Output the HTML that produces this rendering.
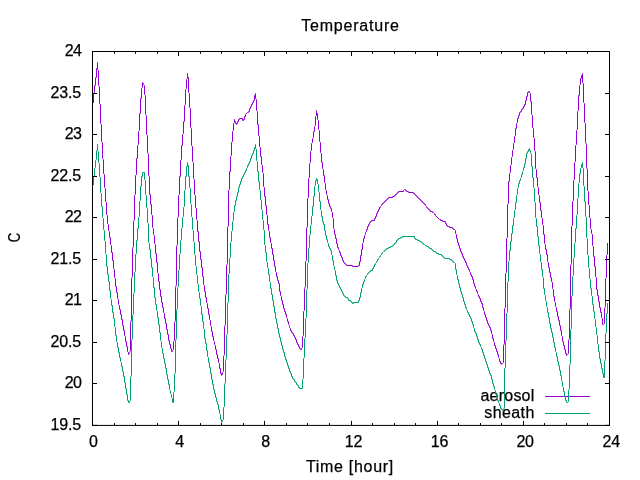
<!DOCTYPE html>
<html lang="en"><head><meta charset="utf-8"><title>Temperature</title>
<style>html,body{margin:0;padding:0;background:#fff;overflow:hidden}svg{display:block}</style>
</head><body>
<svg width="640" height="480" viewBox="0 0 640 480">
<rect x="0" y="0" width="640" height="480" fill="#ffffff"/>
<g font-family="&quot;Liberation Sans&quot;, sans-serif" font-size="16px" fill="#000" stroke="#000" stroke-width="0.25"><text x="534.3" y="400.9" text-anchor="end" textLength="53.8" lengthAdjust="spacing">aerosol</text><text x="534.3" y="417.8" text-anchor="end" textLength="50" lengthAdjust="spacing">sheath</text></g>
<path d="M545 396.5H590" stroke="#9400d3" stroke-width="1" fill="none"/>
<polyline points="93.5,102.5 93.5,93.5 94.5,92.5 94.5,85.5 95.5,85.5 95.5,77.5 96.5,77.5 96.5,68.5 97.5,68.5 97.5,62.5 97.5,69.5 98.5,70.5 98.5,85.5 99.5,86.5 99.5,103.5 100.5,104.5 100.5,123.5 101.5,124.5 101.5,141.5 102.5,142.5 102.5,158.5 103.5,159.5 103.5,173.5 104.5,174.5 104.5,187.5 105.5,188.5 105.5,201.5 106.5,202.5 106.5,214.5 107.5,215.5 107.5,223.5 108.5,224.5 108.5,230.5 109.5,231.5 109.5,237.5 110.5,237.5 110.5,244.5 111.5,245.5 111.5,252.5 112.5,252.5 112.5,260.5 113.5,260.5 113.5,268.5 114.5,269.5 114.5,277.5 115.5,278.5 115.5,286.5 116.5,286.5 116.5,292.5 117.5,292.5 117.5,298.5 118.5,299.5 118.5,304.5 119.5,305.5 119.5,309.5 120.5,309.5 120.5,314.5 121.5,314.5 121.5,319.5 122.5,319.5 122.5,325.5 123.5,325.5 123.5,330.5 124.5,330.5 124.5,335.5 125.5,336.5 125.5,341.5 126.5,341.5 126.5,346.5 127.5,346.5 127.5,351.5 128.5,352.5 128.5,354.5 128.5,353.5 129.5,353.5 129.5,352.5 130.5,350.5 130.5,322.5 131.5,319.5 131.5,278.5 132.5,276.5 132.5,248.5 133.5,246.5 133.5,221.5 134.5,219.5 134.5,195.5 135.5,194.5 135.5,175.5 136.5,174.5 136.5,158.5 137.5,158.5 137.5,145.5 138.5,144.5 138.5,131.5 139.5,130.5 139.5,113.5 140.5,113.5 140.5,98.5 141.5,98.5 141.5,88.5 142.5,87.5 142.5,82.5 143.5,83.5 143.5,84.5 144.5,85.5 144.5,94.5 145.5,95.5 145.5,114.5 146.5,115.5 146.5,134.5 147.5,135.5 147.5,152.5 148.5,154.5 148.5,175.5 149.5,176.5 149.5,194.5 150.5,194.5 150.5,204.5 151.5,204.5 151.5,214.5 152.5,215.5 152.5,227.5 153.5,228.5 153.5,234.5 154.5,235.5 154.5,243.5 155.5,244.5 155.5,253.5 156.5,253.5 156.5,262.5 157.5,262.5 157.5,272.5 158.5,273.5 158.5,281.5 159.5,281.5 159.5,289.5 160.5,289.5 160.5,296.5 161.5,296.5 161.5,302.5 162.5,302.5 162.5,307.5 163.5,307.5 163.5,312.5 164.5,313.5 164.5,318.5 165.5,318.5 165.5,323.5 166.5,323.5 166.5,329.5 167.5,329.5 167.5,334.5 168.5,334.5 168.5,340.5 169.5,340.5 169.5,344.5 170.5,344.5 170.5,348.5 171.5,348.5 171.5,351.5 172.5,351.5 172.5,350.5 173.5,349.5 173.5,341.5 174.5,340.5 174.5,322.5 175.5,320.5 175.5,287.5 176.5,284.5 176.5,246.5 177.5,244.5 177.5,218.5 178.5,216.5 178.5,195.5 179.5,194.5 179.5,176.5 180.5,176.5 180.5,160.5 181.5,159.5 181.5,145.5 182.5,145.5 182.5,134.5 183.5,133.5 183.5,121.5 184.5,121.5 184.5,105.5 185.5,104.5 185.5,89.5 186.5,88.5 186.5,79.5 187.5,78.5 187.5,73.5 187.5,76.5 188.5,77.5 188.5,92.5 189.5,93.5 189.5,107.5 190.5,108.5 190.5,127.5 191.5,128.5 191.5,145.5 192.5,146.5 192.5,161.5 193.5,162.5 193.5,178.5 194.5,179.5 194.5,194.5 195.5,195.5 195.5,207.5 196.5,208.5 196.5,219.5 197.5,220.5 197.5,231.5 198.5,231.5 198.5,241.5 199.5,241.5 199.5,251.5 200.5,251.5 200.5,259.5 201.5,259.5 201.5,267.5 202.5,267.5 202.5,276.5 203.5,276.5 203.5,284.5 204.5,285.5 204.5,291.5 205.5,291.5 205.5,297.5 206.5,297.5 206.5,302.5 207.5,303.5 207.5,308.5 208.5,308.5 208.5,314.5 209.5,314.5 209.5,319.5 210.5,320.5 210.5,325.5 211.5,326.5 211.5,331.5 212.5,331.5 212.5,336.5 213.5,336.5 213.5,340.5 214.5,341.5 214.5,344.5 215.5,345.5 215.5,349.5 216.5,349.5 216.5,354.5 217.5,354.5 217.5,358.5 218.5,358.5 218.5,362.5 219.5,363.5 219.5,368.5 220.5,368.5 220.5,373.5 221.5,373.5 221.5,375.5 221.5,374.5 222.5,374.5 222.5,372.5 223.5,371.5 223.5,356.5 224.5,354.5 224.5,326.5 225.5,324.5 225.5,295.5 226.5,293.5 226.5,265.5 227.5,263.5 227.5,227.5 228.5,225.5 228.5,190.5 229.5,189.5 229.5,171.5 230.5,171.5 230.5,156.5 231.5,155.5 231.5,142.5 232.5,141.5 232.5,131.5 233.5,130.5 233.5,123.5 234.5,122.5 234.5,119.5 234.5,120.5 235.5,121.5 235.5,123.5 236.5,123.5 236.5,124.5 236.5,123.5 237.5,123.5 237.5,121.5 238.5,121.5 238.5,119.5 239.5,119.5 239.5,118.5 242.5,118.5 242.5,120.5 243.5,120.5 243.5,119.5 244.5,119.5 244.5,116.5 245.5,116.5 245.5,114.5 247.5,112.5 248.5,112.5 248.5,111.5 249.5,111.5 249.5,108.5 250.5,108.5 250.5,106.5 251.5,106.5 251.5,104.5 252.5,104.5 252.5,102.5 253.5,102.5 253.5,100.5 254.5,100.5 254.5,95.5 255.5,95.5 255.5,93.5 255.5,98.5 256.5,99.5 256.5,110.5 257.5,111.5 257.5,124.5 258.5,124.5 258.5,135.5 259.5,136.5 259.5,146.5 260.5,147.5 260.5,156.5 261.5,156.5 261.5,164.5 262.5,165.5 262.5,172.5 263.5,173.5 263.5,186.5 264.5,187.5 264.5,196.5 265.5,196.5 265.5,205.5 266.5,205.5 266.5,214.5 267.5,215.5 267.5,224.5 268.5,224.5 268.5,230.5 269.5,231.5 269.5,237.5 270.5,237.5 270.5,242.5 271.5,243.5 271.5,248.5 272.5,248.5 272.5,254.5 273.5,254.5 273.5,260.5 274.5,260.5 274.5,266.5 275.5,266.5 275.5,271.5 276.5,272.5 276.5,276.5 277.5,276.5 277.5,280.5 278.5,280.5 278.5,283.5 279.5,283.5 279.5,291.5 280.5,291.5 280.5,295.5 281.5,296.5 281.5,300.5 282.5,300.5 282.5,304.5 283.5,304.5 283.5,308.5 284.5,308.5 284.5,311.5 285.5,311.5 285.5,314.5 286.5,314.5 286.5,317.5 287.5,318.5 287.5,321.5 288.5,321.5 288.5,324.5 289.5,325.5 289.5,327.5 290.5,328.5 290.5,330.5 291.5,330.5 291.5,332.5 292.5,332.5 292.5,333.5 293.5,333.5 293.5,335.5 294.5,335.5 294.5,337.5 295.5,337.5 295.5,339.5 296.5,339.5 296.5,342.5 297.5,342.5 297.5,344.5 298.5,344.5 298.5,346.5 299.5,346.5 299.5,348.5 300.5,348.5 300.5,349.5 301.5,349.5 301.5,348.5 302.5,347.5 302.5,336.5 303.5,335.5 303.5,311.5 304.5,310.5 304.5,288.5 305.5,286.5 305.5,261.5 306.5,260.5 306.5,228.5 307.5,226.5 307.5,198.5 308.5,197.5 308.5,178.5 309.5,177.5 309.5,163.5 310.5,162.5 310.5,151.5 311.5,150.5 311.5,143.5 312.5,142.5 312.5,138.5 313.5,137.5 313.5,131.5 314.5,131.5 314.5,126.5 315.5,125.5 315.5,116.5 316.5,115.5 316.5,110.5 316.5,112.5 317.5,113.5 317.5,119.5 318.5,120.5 318.5,129.5 319.5,130.5 319.5,141.5 320.5,142.5 320.5,152.5 321.5,153.5 321.5,162.5 322.5,162.5 322.5,168.5 323.5,169.5 323.5,175.5 324.5,175.5 324.5,182.5 325.5,183.5 325.5,189.5 326.5,190.5 326.5,194.5 327.5,195.5 327.5,199.5 328.5,199.5 328.5,203.5 329.5,203.5 329.5,206.5 330.5,206.5 330.5,208.5 331.5,208.5 331.5,211.5 332.5,212.5 332.5,217.5 333.5,218.5 333.5,228.5 334.5,229.5 334.5,234.5 335.5,234.5 335.5,238.5 336.5,238.5 336.5,243.5 337.5,243.5 337.5,247.5 338.5,247.5 338.5,249.5 339.5,250.5 339.5,252.5 340.5,252.5 340.5,255.5 341.5,255.5 341.5,257.5 342.5,257.5 342.5,260.5 343.5,260.5 343.5,262.5 344.5,262.5 344.5,263.5 345.5,263.5 345.5,264.5 346.5,264.5 346.5,265.5 352.5,265.5 352.5,266.5 358.5,266.5 358.5,265.5 359.5,265.5 359.5,261.5 360.5,261.5 360.5,255.5 361.5,255.5 361.5,249.5 362.5,249.5 362.5,243.5 363.5,242.5 363.5,238.5 364.5,238.5 364.5,235.5 365.5,234.5 365.5,232.5 366.5,231.5 366.5,229.5 367.5,229.5 367.5,226.5 368.5,226.5 368.5,224.5 369.5,224.5 369.5,222.5 370.5,222.5 370.5,221.5 371.5,221.5 371.5,220.5 374.5,220.5 374.5,218.5 375.5,218.5 375.5,216.5 376.5,216.5 376.5,213.5 377.5,213.5 377.5,211.5 378.5,211.5 378.5,209.5 379.5,209.5 379.5,207.5 380.5,207.5 380.5,206.5 381.5,205.5 381.5,204.5 382.5,204.5 382.5,203.5 383.5,203.5 383.5,202.5 384.5,202.5 384.5,201.5 385.5,201.5 385.5,200.5 386.5,200.5 386.5,199.5 387.5,199.5 387.5,198.5 388.5,198.5 388.5,197.5 392.5,197.5 392.5,196.5 394.5,196.5 394.5,195.5 395.5,195.5 395.5,194.5 396.5,194.5 396.5,193.5 397.5,193.5 397.5,192.5 398.5,192.5 398.5,191.5 403.5,191.5 403.5,190.5 404.5,189.5 405.5,189.5 405.5,190.5 406.5,190.5 406.5,191.5 408.5,191.5 408.5,192.5 413.5,192.5 413.5,193.5 414.5,193.5 414.5,194.5 415.5,194.5 415.5,195.5 416.5,195.5 416.5,196.5 417.5,196.5 417.5,197.5 418.5,197.5 418.5,198.5 419.5,198.5 419.5,199.5 420.5,199.5 420.5,200.5 421.5,200.5 421.5,201.5 422.5,201.5 422.5,202.5 423.5,202.5 423.5,203.5 424.5,203.5 424.5,204.5 425.5,204.5 425.5,205.5 426.5,206.5 426.5,207.5 427.5,207.5 427.5,208.5 428.5,208.5 428.5,209.5 429.5,209.5 429.5,210.5 430.5,210.5 430.5,211.5 432.5,211.5 432.5,212.5 433.5,212.5 434.5,213.5 434.5,214.5 435.5,214.5 435.5,215.5 439.5,219.5 440.5,219.5 440.5,220.5 442.5,220.5 442.5,221.5 445.5,221.5 445.5,223.5 446.5,223.5 446.5,225.5 447.5,225.5 447.5,226.5 449.5,226.5 449.5,227.5 452.5,227.5 452.5,228.5 453.5,228.5 453.5,229.5 454.5,229.5 455.5,230.5 455.5,233.5 456.5,234.5 456.5,238.5 457.5,238.5 457.5,242.5 458.5,242.5 458.5,245.5 459.5,245.5 459.5,248.5 460.5,248.5 460.5,251.5 461.5,251.5 461.5,253.5 462.5,253.5 462.5,256.5 463.5,256.5 463.5,258.5 464.5,258.5 464.5,260.5 465.5,260.5 465.5,262.5 466.5,262.5 466.5,265.5 467.5,265.5 467.5,267.5 468.5,267.5 468.5,269.5 469.5,269.5 469.5,271.5 470.5,272.5 470.5,274.5 471.5,274.5 471.5,276.5 472.5,276.5 472.5,279.5 473.5,279.5 473.5,283.5 474.5,283.5 474.5,286.5 475.5,286.5 475.5,288.5 476.5,289.5 476.5,291.5 477.5,291.5 477.5,293.5 478.5,294.5 478.5,296.5 479.5,296.5 479.5,298.5 480.5,298.5 480.5,301.5 481.5,301.5 481.5,303.5 482.5,303.5 482.5,307.5 483.5,307.5 483.5,310.5 484.5,311.5 484.5,314.5 485.5,314.5 485.5,317.5 486.5,317.5 486.5,320.5 487.5,320.5 487.5,323.5 488.5,323.5 488.5,325.5 489.5,325.5 489.5,327.5 490.5,327.5 490.5,330.5 491.5,330.5 491.5,333.5 492.5,334.5 492.5,338.5 493.5,338.5 493.5,341.5 494.5,342.5 494.5,345.5 495.5,345.5 495.5,348.5 496.5,348.5 496.5,351.5 497.5,351.5 497.5,354.5 498.5,354.5 498.5,357.5 499.5,358.5 499.5,361.5 500.5,361.5 500.5,363.5 501.5,363.5 501.5,364.5 501.5,363.5 502.5,363.5 503.5,362.5 503.5,345.5 504.5,343.5 504.5,308.5 505.5,307.5 505.5,273.5 506.5,272.5 506.5,238.5 507.5,237.5 507.5,204.5 508.5,203.5 508.5,181.5 509.5,181.5 509.5,173.5 510.5,172.5 510.5,165.5 511.5,164.5 511.5,157.5 512.5,156.5 512.5,150.5 513.5,149.5 513.5,143.5 514.5,142.5 514.5,136.5 515.5,135.5 515.5,128.5 516.5,128.5 516.5,123.5 517.5,122.5 517.5,118.5 518.5,118.5 518.5,115.5 519.5,115.5 519.5,112.5 520.5,112.5 520.5,111.5 521.5,111.5 521.5,109.5 522.5,109.5 522.5,108.5 523.5,108.5 523.5,106.5 524.5,106.5 524.5,104.5 525.5,104.5 525.5,100.5 526.5,100.5 526.5,96.5 527.5,96.5 527.5,92.5 528.5,92.5 528.5,91.5 529.5,91.5 529.5,92.5 530.5,93.5 530.5,101.5 531.5,101.5 531.5,114.5 532.5,115.5 532.5,127.5 533.5,128.5 533.5,137.5 534.5,138.5 534.5,150.5 535.5,151.5 535.5,168.5 536.5,169.5 536.5,177.5 537.5,177.5 537.5,186.5 538.5,187.5 538.5,194.5 539.5,195.5 539.5,202.5 540.5,202.5 540.5,210.5 541.5,210.5 541.5,217.5 542.5,218.5 542.5,224.5 543.5,225.5 543.5,234.5 544.5,234.5 544.5,243.5 545.5,244.5 545.5,249.5 546.5,249.5 546.5,254.5 547.5,254.5 547.5,261.5 548.5,262.5 548.5,267.5 549.5,267.5 549.5,272.5 550.5,272.5 550.5,277.5 551.5,277.5 551.5,281.5 552.5,282.5 552.5,288.5 553.5,289.5 553.5,296.5 554.5,296.5 554.5,301.5 555.5,302.5 555.5,306.5 556.5,307.5 556.5,311.5 557.5,311.5 557.5,316.5 558.5,316.5 558.5,320.5 559.5,320.5 559.5,325.5 560.5,325.5 560.5,330.5 561.5,330.5 561.5,335.5 562.5,336.5 562.5,341.5 563.5,341.5 563.5,345.5 564.5,345.5 564.5,349.5 565.5,349.5 565.5,353.5 566.5,353.5 566.5,355.5 566.5,354.5 567.5,354.5 568.5,353.5 568.5,340.5 569.5,338.5 569.5,310.5 570.5,307.5 570.5,265.5 571.5,263.5 571.5,226.5 572.5,225.5 572.5,201.5 573.5,200.5 573.5,180.5 574.5,179.5 574.5,162.5 575.5,161.5 575.5,145.5 576.5,144.5 576.5,130.5 577.5,129.5 577.5,111.5 578.5,110.5 578.5,95.5 579.5,95.5 579.5,85.5 580.5,84.5 580.5,78.5 581.5,78.5 581.5,75.5 582.5,74.5 582.5,73.5 582.5,82.5 583.5,83.5 583.5,102.5 584.5,103.5 584.5,122.5 585.5,123.5 585.5,142.5 586.5,144.5 586.5,167.5 587.5,169.5 587.5,190.5 588.5,191.5 588.5,204.5 589.5,205.5 589.5,217.5 590.5,218.5 590.5,228.5 591.5,229.5 591.5,233.5 592.5,234.5 592.5,245.5 593.5,246.5 593.5,256.5 594.5,256.5 594.5,266.5 595.5,266.5 595.5,276.5 596.5,277.5 596.5,289.5 597.5,289.5 597.5,295.5 598.5,295.5 598.5,301.5 599.5,301.5 599.5,307.5 600.5,307.5 600.5,312.5 601.5,312.5 601.5,317.5 602.5,318.5 602.5,324.5 603.5,324.5 604.5,323.5 604.5,308.5 605.5,306.5 605.5,278.5 606.5,277.5 606.5,255.5 607.5,254.5 607.5,243.5" stroke="#9400d3" stroke-width="1" fill="none" stroke-linejoin="miter" stroke-linecap="square"/>
<path d="M545 413.5H590" stroke="#009e73" stroke-width="1" fill="none"/>
<polyline points="93.5,184.5 93.5,176.5 94.5,176.5 94.5,168.5 95.5,167.5 95.5,160.5 96.5,159.5 96.5,150.5 97.5,149.5 97.5,144.5 97.5,150.5 98.5,151.5 98.5,162.5 99.5,163.5 99.5,176.5 100.5,177.5 100.5,192.5 101.5,193.5 101.5,206.5 102.5,206.5 102.5,217.5 103.5,218.5 103.5,229.5 104.5,230.5 104.5,240.5 105.5,241.5 105.5,253.5 106.5,254.5 106.5,266.5 107.5,266.5 107.5,274.5 108.5,274.5 108.5,281.5 109.5,281.5 109.5,290.5 110.5,290.5 110.5,298.5 111.5,299.5 111.5,305.5 112.5,305.5 112.5,312.5 113.5,312.5 113.5,318.5 114.5,318.5 114.5,326.5 115.5,327.5 115.5,335.5 116.5,335.5 116.5,341.5 117.5,342.5 117.5,347.5 118.5,347.5 118.5,352.5 119.5,352.5 119.5,357.5 120.5,357.5 120.5,361.5 121.5,362.5 121.5,366.5 122.5,366.5 122.5,371.5 123.5,371.5 123.5,376.5 124.5,376.5 124.5,382.5 125.5,382.5 125.5,388.5 126.5,388.5 126.5,394.5 127.5,394.5 127.5,400.5 128.5,400.5 128.5,402.5 129.5,402.5 129.5,401.5 130.5,400.5 130.5,377.5 131.5,375.5 131.5,340.5 132.5,338.5 132.5,315.5 133.5,314.5 133.5,293.5 134.5,292.5 134.5,272.5 135.5,271.5 135.5,254.5 136.5,253.5 136.5,240.5 137.5,240.5 137.5,228.5 138.5,228.5 138.5,217.5 139.5,216.5 139.5,201.5 140.5,200.5 140.5,186.5 141.5,186.5 141.5,176.5 142.5,176.5 142.5,172.5 144.5,172.5 144.5,179.5 145.5,180.5 145.5,194.5 146.5,195.5 146.5,207.5 147.5,208.5 147.5,222.5 148.5,223.5 148.5,242.5 149.5,243.5 149.5,249.5 150.5,249.5 150.5,258.5 151.5,258.5 151.5,267.5 152.5,267.5 152.5,276.5 153.5,277.5 153.5,287.5 154.5,287.5 154.5,297.5 155.5,297.5 155.5,304.5 156.5,304.5 156.5,310.5 157.5,311.5 157.5,317.5 158.5,317.5 158.5,324.5 159.5,324.5 159.5,332.5 160.5,332.5 160.5,340.5 161.5,341.5 161.5,347.5 162.5,348.5 162.5,353.5 163.5,353.5 163.5,358.5 164.5,358.5 164.5,363.5 165.5,363.5 165.5,368.5 166.5,368.5 166.5,374.5 167.5,374.5 167.5,379.5 168.5,379.5 168.5,384.5 169.5,384.5 169.5,389.5 170.5,390.5 170.5,393.5 171.5,394.5 171.5,397.5 172.5,398.5 172.5,402.5 173.5,402.5 173.5,392.5 174.5,391.5 174.5,374.5 175.5,372.5 175.5,340.5 176.5,338.5 176.5,310.5 177.5,308.5 177.5,287.5 178.5,286.5 178.5,270.5 179.5,269.5 179.5,254.5 180.5,253.5 180.5,240.5 181.5,239.5 181.5,228.5 182.5,227.5 182.5,217.5 183.5,216.5 183.5,207.5 184.5,206.5 184.5,190.5 185.5,189.5 185.5,176.5 186.5,176.5 186.5,166.5 187.5,166.5 187.5,162.5 187.5,164.5 188.5,165.5 188.5,176.5 189.5,176.5 189.5,187.5 190.5,188.5 190.5,203.5 191.5,204.5 191.5,216.5 192.5,217.5 192.5,229.5 193.5,230.5 193.5,241.5 194.5,242.5 194.5,254.5 195.5,255.5 195.5,265.5 196.5,266.5 196.5,274.5 197.5,275.5 197.5,283.5 198.5,284.5 198.5,291.5 199.5,292.5 199.5,298.5 200.5,298.5 200.5,305.5 201.5,306.5 201.5,314.5 202.5,314.5 202.5,321.5 203.5,321.5 203.5,328.5 204.5,329.5 204.5,338.5 205.5,338.5 205.5,343.5 206.5,343.5 206.5,350.5 207.5,350.5 207.5,356.5 208.5,357.5 208.5,362.5 209.5,362.5 209.5,367.5 210.5,367.5 210.5,373.5 211.5,373.5 211.5,379.5 212.5,379.5 212.5,384.5 213.5,384.5 213.5,389.5 214.5,389.5 214.5,393.5 215.5,393.5 215.5,397.5 216.5,397.5 216.5,401.5 217.5,401.5 217.5,404.5 218.5,404.5 218.5,409.5 219.5,409.5 219.5,413.5 220.5,414.5 220.5,419.5 221.5,419.5 221.5,422.5 222.5,421.5 222.5,420.5 223.5,419.5 223.5,407.5 224.5,406.5 224.5,384.5 225.5,382.5 225.5,360.5 226.5,358.5 226.5,335.5 227.5,333.5 227.5,303.5 228.5,301.5 228.5,274.5 229.5,273.5 229.5,258.5 230.5,257.5 230.5,242.5 231.5,241.5 231.5,231.5 232.5,230.5 232.5,221.5 233.5,220.5 233.5,212.5 234.5,211.5 234.5,205.5 235.5,205.5 235.5,200.5 236.5,200.5 236.5,196.5 237.5,196.5 237.5,192.5 238.5,192.5 238.5,187.5 239.5,187.5 239.5,184.5 240.5,184.5 240.5,181.5 241.5,181.5 241.5,178.5 242.5,178.5 242.5,176.5 243.5,176.5 243.5,174.5 244.5,174.5 244.5,172.5 245.5,172.5 245.5,170.5 246.5,170.5 246.5,168.5 247.5,167.5 247.5,165.5 248.5,165.5 248.5,163.5 249.5,163.5 249.5,161.5 250.5,161.5 250.5,158.5 251.5,158.5 251.5,155.5 252.5,155.5 252.5,153.5 253.5,153.5 253.5,150.5 254.5,150.5 254.5,147.5 255.5,147.5 255.5,144.5 255.5,148.5 256.5,149.5 256.5,160.5 257.5,161.5 257.5,171.5 258.5,171.5 258.5,181.5 259.5,181.5 259.5,189.5 260.5,190.5 260.5,199.5 261.5,200.5 261.5,209.5 262.5,210.5 262.5,219.5 263.5,220.5 263.5,229.5 264.5,230.5 264.5,244.5 265.5,245.5 265.5,252.5 266.5,252.5 266.5,261.5 267.5,262.5 267.5,267.5 268.5,268.5 268.5,274.5 269.5,274.5 269.5,281.5 270.5,282.5 270.5,288.5 271.5,288.5 271.5,294.5 272.5,294.5 272.5,300.5 273.5,300.5 273.5,306.5 274.5,306.5 274.5,312.5 275.5,312.5 275.5,318.5 276.5,318.5 276.5,323.5 277.5,323.5 277.5,328.5 278.5,328.5 278.5,333.5 279.5,333.5 279.5,337.5 280.5,337.5 280.5,341.5 281.5,341.5 281.5,345.5 282.5,345.5 282.5,349.5 283.5,349.5 283.5,352.5 284.5,352.5 284.5,356.5 285.5,356.5 285.5,359.5 286.5,359.5 286.5,362.5 287.5,362.5 287.5,365.5 288.5,365.5 288.5,368.5 289.5,368.5 289.5,371.5 290.5,371.5 290.5,373.5 291.5,373.5 291.5,376.5 292.5,376.5 292.5,378.5 293.5,378.5 293.5,379.5 294.5,379.5 294.5,381.5 295.5,381.5 295.5,382.5 296.5,382.5 296.5,384.5 297.5,384.5 297.5,385.5 298.5,385.5 298.5,387.5 299.5,387.5 299.5,388.5 302.5,388.5 302.5,379.5 303.5,378.5 303.5,358.5 304.5,357.5 304.5,338.5 305.5,337.5 305.5,318.5 306.5,317.5 306.5,290.5 307.5,288.5 307.5,263.5 308.5,262.5 308.5,248.5 309.5,247.5 309.5,235.5 310.5,234.5 310.5,225.5 311.5,224.5 311.5,216.5 312.5,215.5 312.5,206.5 313.5,206.5 313.5,196.5 314.5,196.5 314.5,186.5 315.5,185.5 315.5,180.5 316.5,180.5 316.5,178.5 316.5,179.5 317.5,179.5 317.5,183.5 318.5,184.5 318.5,191.5 319.5,192.5 319.5,201.5 320.5,201.5 320.5,209.5 321.5,210.5 321.5,216.5 322.5,216.5 322.5,221.5 323.5,221.5 323.5,224.5 324.5,224.5 324.5,230.5 325.5,230.5 325.5,235.5 326.5,235.5 326.5,239.5 327.5,239.5 327.5,242.5 328.5,243.5 328.5,246.5 329.5,246.5 329.5,248.5 330.5,248.5 330.5,250.5 331.5,250.5 331.5,254.5 332.5,255.5 332.5,260.5 333.5,260.5 333.5,265.5 334.5,266.5 334.5,269.5 335.5,270.5 335.5,275.5 336.5,275.5 336.5,280.5 337.5,280.5 337.5,283.5 338.5,283.5 338.5,285.5 339.5,285.5 339.5,287.5 340.5,287.5 340.5,289.5 341.5,289.5 341.5,291.5 342.5,291.5 342.5,293.5 343.5,293.5 343.5,295.5 344.5,295.5 344.5,296.5 345.5,296.5 345.5,297.5 347.5,297.5 347.5,298.5 348.5,298.5 348.5,300.5 350.5,300.5 350.5,301.5 351.5,301.5 351.5,302.5 352.5,302.5 352.5,303.5 353.5,303.5 353.5,302.5 358.5,302.5 358.5,300.5 359.5,300.5 359.5,297.5 360.5,297.5 360.5,292.5 361.5,292.5 361.5,288.5 362.5,287.5 362.5,284.5 363.5,284.5 363.5,281.5 364.5,281.5 364.5,279.5 365.5,278.5 365.5,276.5 366.5,276.5 366.5,275.5 367.5,274.5 367.5,273.5 368.5,273.5 368.5,272.5 369.5,272.5 369.5,271.5 370.5,271.5 370.5,270.5 372.5,270.5 372.5,268.5 373.5,268.5 373.5,266.5 374.5,266.5 374.5,264.5 375.5,264.5 375.5,263.5 376.5,262.5 376.5,261.5 377.5,261.5 377.5,259.5 378.5,259.5 378.5,258.5 379.5,257.5 379.5,256.5 380.5,256.5 380.5,255.5 381.5,254.5 381.5,253.5 382.5,253.5 382.5,252.5 383.5,251.5 384.5,251.5 384.5,250.5 385.5,250.5 385.5,249.5 386.5,249.5 386.5,248.5 388.5,248.5 388.5,247.5 390.5,247.5 390.5,246.5 392.5,246.5 392.5,245.5 393.5,245.5 393.5,244.5 394.5,244.5 394.5,243.5 395.5,243.5 395.5,242.5 396.5,242.5 396.5,240.5 397.5,240.5 397.5,239.5 398.5,239.5 398.5,238.5 400.5,238.5 400.5,237.5 402.5,237.5 402.5,236.5 414.5,236.5 414.5,238.5 415.5,238.5 415.5,239.5 417.5,239.5 417.5,240.5 419.5,240.5 419.5,241.5 421.5,241.5 421.5,242.5 422.5,242.5 422.5,243.5 423.5,243.5 423.5,244.5 424.5,244.5 425.5,245.5 426.5,245.5 426.5,246.5 428.5,246.5 428.5,247.5 429.5,247.5 429.5,248.5 431.5,248.5 431.5,249.5 432.5,249.5 432.5,250.5 433.5,250.5 433.5,251.5 435.5,251.5 435.5,252.5 436.5,252.5 436.5,253.5 438.5,253.5 438.5,254.5 441.5,254.5 441.5,255.5 442.5,255.5 442.5,256.5 443.5,256.5 443.5,257.5 444.5,257.5 444.5,258.5 449.5,258.5 449.5,259.5 451.5,259.5 451.5,260.5 452.5,260.5 452.5,261.5 453.5,261.5 453.5,262.5 454.5,262.5 455.5,263.5 455.5,269.5 456.5,269.5 456.5,274.5 457.5,275.5 457.5,279.5 458.5,279.5 458.5,283.5 459.5,283.5 459.5,287.5 460.5,287.5 460.5,291.5 461.5,291.5 461.5,294.5 462.5,294.5 462.5,297.5 463.5,297.5 463.5,301.5 464.5,301.5 464.5,304.5 465.5,304.5 465.5,307.5 466.5,307.5 466.5,309.5 467.5,310.5 467.5,312.5 468.5,312.5 468.5,314.5 469.5,314.5 469.5,316.5 470.5,316.5 470.5,318.5 471.5,318.5 471.5,321.5 472.5,321.5 472.5,324.5 473.5,324.5 473.5,327.5 474.5,328.5 474.5,331.5 475.5,331.5 475.5,333.5 476.5,333.5 476.5,336.5 477.5,336.5 477.5,339.5 478.5,339.5 478.5,342.5 479.5,342.5 479.5,344.5 480.5,344.5 480.5,346.5 481.5,347.5 481.5,349.5 482.5,349.5 482.5,352.5 483.5,352.5 483.5,355.5 484.5,355.5 484.5,358.5 485.5,358.5 485.5,361.5 486.5,361.5 486.5,364.5 487.5,364.5 487.5,367.5 488.5,367.5 488.5,370.5 489.5,370.5 489.5,373.5 490.5,373.5 490.5,375.5 491.5,375.5 491.5,379.5 492.5,379.5 492.5,383.5 493.5,383.5 493.5,386.5 494.5,386.5 494.5,389.5 495.5,390.5 495.5,393.5 496.5,393.5 496.5,396.5 497.5,397.5 497.5,400.5 498.5,400.5 498.5,402.5 499.5,403.5 499.5,405.5 500.5,405.5 500.5,408.5 501.5,408.5 501.5,409.5 502.5,409.5 502.5,410.5 503.5,410.5 503.5,409.5 504.5,407.5 504.5,368.5 505.5,367.5 505.5,341.5 506.5,339.5 506.5,313.5 507.5,312.5 507.5,282.5 508.5,281.5 508.5,261.5 509.5,260.5 509.5,250.5 510.5,250.5 510.5,241.5 511.5,241.5 511.5,233.5 512.5,233.5 512.5,225.5 513.5,225.5 513.5,218.5 514.5,217.5 514.5,210.5 515.5,209.5 515.5,202.5 516.5,202.5 516.5,195.5 517.5,194.5 517.5,188.5 518.5,187.5 518.5,183.5 519.5,183.5 519.5,180.5 520.5,180.5 520.5,178.5 521.5,177.5 521.5,174.5 522.5,174.5 522.5,171.5 523.5,170.5 523.5,167.5 524.5,167.5 524.5,163.5 525.5,163.5 525.5,158.5 526.5,158.5 526.5,153.5 527.5,153.5 527.5,151.5 528.5,151.5 528.5,149.5 529.5,149.5 529.5,148.5 529.5,150.5 530.5,150.5 530.5,152.5 531.5,154.5 531.5,166.5 532.5,166.5 532.5,177.5 533.5,177.5 533.5,187.5 534.5,188.5 534.5,201.5 535.5,202.5 535.5,217.5 536.5,218.5 536.5,226.5 537.5,226.5 537.5,236.5 538.5,236.5 538.5,245.5 539.5,245.5 539.5,253.5 540.5,254.5 540.5,261.5 541.5,262.5 541.5,269.5 542.5,269.5 542.5,276.5 543.5,277.5 543.5,288.5 544.5,288.5 544.5,294.5 545.5,295.5 545.5,300.5 546.5,301.5 546.5,306.5 547.5,307.5 547.5,312.5 548.5,312.5 548.5,317.5 549.5,317.5 549.5,323.5 550.5,323.5 550.5,328.5 551.5,328.5 551.5,332.5 552.5,332.5 552.5,337.5 553.5,337.5 553.5,342.5 554.5,342.5 554.5,347.5 555.5,347.5 555.5,351.5 556.5,352.5 556.5,356.5 557.5,356.5 557.5,361.5 558.5,361.5 558.5,365.5 559.5,365.5 559.5,370.5 560.5,370.5 560.5,375.5 561.5,375.5 561.5,380.5 562.5,381.5 562.5,386.5 563.5,387.5 563.5,391.5 564.5,391.5 564.5,396.5 565.5,396.5 565.5,400.5 566.5,400.5 566.5,402.5 567.5,402.5 568.5,401.5 568.5,390.5 569.5,388.5 569.5,365.5 570.5,363.5 570.5,330.5 571.5,328.5 571.5,296.5 572.5,295.5 572.5,276.5 573.5,275.5 573.5,258.5 574.5,257.5 574.5,243.5 575.5,242.5 575.5,228.5 576.5,228.5 576.5,215.5 577.5,214.5 577.5,198.5 578.5,197.5 578.5,183.5 579.5,182.5 579.5,173.5 580.5,173.5 580.5,168.5 581.5,167.5 581.5,164.5 582.5,164.5 582.5,162.5 582.5,167.5 583.5,168.5 583.5,185.5 584.5,186.5 584.5,201.5 585.5,201.5 585.5,216.5 586.5,217.5 586.5,237.5 587.5,238.5 587.5,254.5 588.5,255.5 588.5,267.5 589.5,268.5 589.5,278.5 590.5,279.5 590.5,288.5 591.5,288.5 591.5,295.5 592.5,296.5 592.5,304.5 593.5,304.5 593.5,311.5 594.5,311.5 594.5,318.5 595.5,319.5 595.5,326.5 596.5,327.5 596.5,334.5 597.5,335.5 597.5,343.5 598.5,344.5 598.5,351.5 599.5,351.5 599.5,358.5 600.5,358.5 600.5,363.5 601.5,363.5 601.5,368.5 602.5,368.5 602.5,373.5 603.5,373.5 603.5,377.5 604.5,377.5 604.5,361.5 605.5,359.5 605.5,333.5 606.5,332.5 606.5,313.5 607.5,313.5 607.5,303.5" stroke="#009e73" stroke-width="1" fill="none" stroke-linejoin="miter" stroke-linecap="square"/>
<path d="M92.5 425.4v-4.5M92.5 51.5v4.5M114.5 425.4v-2.3M114.5 51.5v2.3M135.5 425.4v-2.3M135.5 51.5v2.3M157.5 425.4v-2.3M157.5 51.5v2.3M178.5 425.4v-4.5M178.5 51.5v4.5M200.5 425.4v-2.3M200.5 51.5v2.3M221.5 425.4v-2.3M221.5 51.5v2.3M243.5 425.4v-2.3M243.5 51.5v2.3M264.5 425.4v-4.5M264.5 51.5v4.5M286.5 425.4v-2.3M286.5 51.5v2.3M307.5 425.4v-2.3M307.5 51.5v2.3M329.5 425.4v-2.3M329.5 51.5v2.3M351.5 425.4v-4.5M351.5 51.5v4.5M372.5 425.4v-2.3M372.5 51.5v2.3M394.5 425.4v-2.3M394.5 51.5v2.3M415.5 425.4v-2.3M415.5 51.5v2.3M437.5 425.4v-4.5M437.5 51.5v4.5M458.5 425.4v-2.3M458.5 51.5v2.3M480.5 425.4v-2.3M480.5 51.5v2.3M501.5 425.4v-2.3M501.5 51.5v2.3M523.5 425.4v-4.5M523.5 51.5v4.5M544.5 425.4v-2.3M544.5 51.5v2.3M566.5 425.4v-2.3M566.5 51.5v2.3M587.5 425.4v-2.3M587.5 51.5v2.3M609.5 425.4v-4.5M609.5 51.5v4.5M92.5 425.4h4.5M609.5 425.4h-4.5M92.5 383.5h4.5M609.5 383.5h-4.5M92.5 342.5h4.5M609.5 342.5h-4.5M92.5 300.5h4.5M609.5 300.5h-4.5M92.5 259.5h4.5M609.5 259.5h-4.5M92.5 217.5h4.5M609.5 217.5h-4.5M92.5 176.5h4.5M609.5 176.5h-4.5M92.5 134.5h4.5M609.5 134.5h-4.5M92.5 93.5h4.5M609.5 93.5h-4.5M92.5 51.5h4.5M609.5 51.5h-4.5" stroke="#000" stroke-width="1" fill="none"/>
<rect x="92.5" y="51.5" width="517.0" height="373.9" stroke="#000" stroke-width="1" fill="none"/>
<g font-family="&quot;Liberation Sans&quot;, sans-serif" font-size="16px" fill="#000" stroke="#000" stroke-width="0.25"><text x="81.2" y="429.8" text-anchor="end" textLength="30.8" lengthAdjust="spacing">19.5</text><text x="81.8" y="387.9" text-anchor="end" textLength="17.0" lengthAdjust="spacing">20</text><text x="81.2" y="346.9" text-anchor="end" textLength="30.8" lengthAdjust="spacing">20.5</text><text x="81.8" y="304.9" text-anchor="end" textLength="17.0" lengthAdjust="spacing">21</text><text x="81.2" y="263.9" text-anchor="end" textLength="30.8" lengthAdjust="spacing">21.5</text><text x="81.8" y="221.9" text-anchor="end" textLength="17.0" lengthAdjust="spacing">22</text><text x="81.2" y="180.9" text-anchor="end" textLength="30.8" lengthAdjust="spacing">22.5</text><text x="81.8" y="138.9" text-anchor="end" textLength="17.0" lengthAdjust="spacing">23</text><text x="81.2" y="97.9" text-anchor="end" textLength="30.8" lengthAdjust="spacing">23.5</text><text x="81.8" y="55.9" text-anchor="end" textLength="17.0" lengthAdjust="spacing">24</text><text x="93.5" y="446.8" text-anchor="middle" textLength="8.5" lengthAdjust="spacing">0</text><text x="179.7" y="446.8" text-anchor="middle" textLength="8.5" lengthAdjust="spacing">4</text><text x="265.8" y="446.8" text-anchor="middle" textLength="8.5" lengthAdjust="spacing">8</text><text x="353.6" y="446.8" text-anchor="middle" textLength="17.6" lengthAdjust="spacing">12</text><text x="439.6" y="446.8" text-anchor="middle" textLength="17.6" lengthAdjust="spacing">16</text><text x="525.2" y="446.8" text-anchor="middle" textLength="17.6" lengthAdjust="spacing">20</text><text x="611.4" y="446.8" text-anchor="middle" textLength="17.6" lengthAdjust="spacing">24</text><text x="350.1" y="30.6" text-anchor="middle" textLength="97.6" lengthAdjust="spacing">Temperature</text><text x="349.6" y="471.6" text-anchor="middle" textLength="87.2" lengthAdjust="spacing">Time [hour]</text><text transform="translate(20.1 237.6) rotate(-90) scale(0.82 1)" text-anchor="middle">C</text></g>
</svg>
</body></html>
